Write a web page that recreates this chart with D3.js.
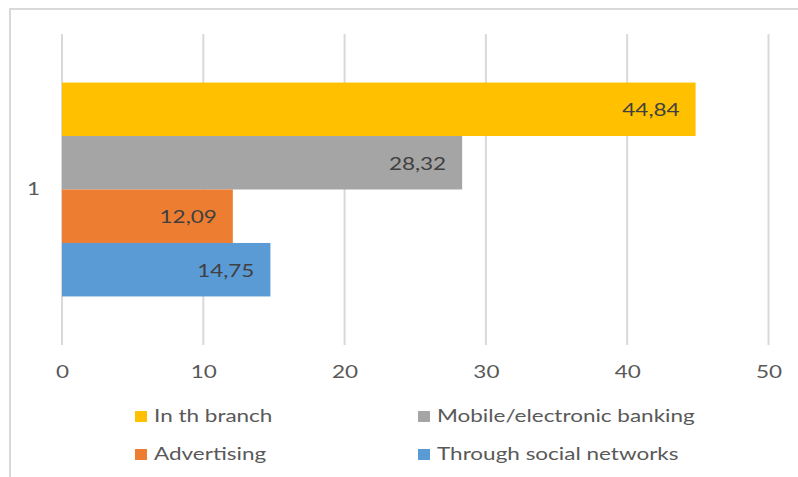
<!DOCTYPE html>
<html>
<head>
<meta charset="utf-8">
<script src="https://cdn.jsdelivr.net/npm/d3@7"></script>
<style>
  html, body { margin: 0; padding: 0; background: #fff; }
  svg { display: block; }
  text { font-family: Lato, "Open Sans", sans-serif; }
</style>
</head>
<body>
<svg id="chart" width="798" height="477"></svg>
<script>
// Survey answers: where customers first heard about the service (percent)
const categories = ["1"];
const seriesNames = ["In th branch", "Mobile/electronic banking", "Advertising", "Through social networks"];
const seriesValues = [44.84, 28.32, 12.09, 14.75];
const seriesColors = ["#FFC000", "#A5A5A5", "#ED7D31", "#5B9BD5"];
const xTicks = [0, 10, 20, 30, 40, 50];

const fmt = v => d3.format(".2f")(v).replace(".", ",");
const stretch = "scale(1.25,1)";

const svg = d3.select("#chart");
const W = 798, H = 477;

// chart frame (extends past the visible area on the right and bottom)
svg.append("rect")
  .attr("x", 10).attr("y", 9)
  .attr("width", W + 20).attr("height", H + 20)
  .attr("fill", "#fff")
  .attr("stroke", "#D9D9D9")
  .attr("stroke-width", 2);

const plot = { left: 62, right: 768.5, top: 34, bottom: 345 };

const x = d3.scaleLinear().domain([0, 50]).range([plot.left, plot.right]);
const y = d3.scaleBand().domain(categories).range([plot.top, plot.bottom])
  .paddingInner(0).paddingOuter(0.227);
const ySeries = d3.scaleBand().domain(seriesNames).range([0, y.bandwidth()]).padding(0);

// vertical gridlines
svg.append("g")
  .selectAll("line")
  .data(xTicks)
  .join("line")
  .attr("x1", d => x(d)).attr("x2", d => x(d))
  .attr("y1", plot.top).attr("y2", plot.bottom)
  .attr("stroke", "#D9D9D9")
  .attr("stroke-width", 2);

// bars
const rows = categories.flatMap(c => seriesNames.map((s, i) => ({ c, s, v: seriesValues[i], color: seriesColors[i] })));
const barG = svg.append("g");
barG.selectAll("rect")
  .data(rows)
  .join("rect")
  .attr("x", x(0))
  .attr("y", d => y(d.c) + ySeries(d.s))
  .attr("width", d => x(d.v) - x(0))
  .attr("height", ySeries.bandwidth())
  .attr("fill", d => d.color);

// value labels inside bar ends
barG.selectAll("text")
  .data(rows)
  .join("text")
  .attr("transform", d => `translate(${x(d.v) - 16},${y(d.c) + ySeries(d.s) + ySeries.bandwidth() / 2}) ${stretch}`)
  .attr("text-anchor", "end")
  .attr("dominant-baseline", "central")
  .attr("font-size", 18)
  .attr("fill", "#404040")
  .text(d => fmt(d.v));

// value axis
const xAxis = svg.append("g")
  .attr("transform", `translate(0,${plot.bottom})`)
  .call(d3.axisBottom(x).tickValues(xTicks).tickSize(0).tickPadding(20).tickFormat(d3.format("d")));
xAxis.select(".domain").remove();
xAxis.selectAll("text")
  .attr("font-size", 18)
  .attr("font-family", "Lato, 'Open Sans', sans-serif")
  .attr("fill", "#595959")
  .attr("transform", stretch);

// category axis
const yAxis = svg.append("g")
  .attr("transform", `translate(${plot.left},0)`)
  .call(d3.axisLeft(y).tickSize(0).tickPadding(0));
yAxis.select(".domain").remove();
yAxis.selectAll("text")
  .attr("x", 0)
  .attr("font-size", 18)
  .attr("font-family", "Lato, 'Open Sans', sans-serif")
  .attr("fill", "#595959")
  .attr("transform", `translate(-22,0) ${stretch}`);

// legend, two columns
const legendX = [135, 418];
const legendY = [416.5, 454.5];
const legend = svg.append("g")
  .selectAll("g")
  .data(seriesNames)
  .join("g")
  .attr("transform", (d, i) => `translate(${legendX[i % 2]},${legendY[Math.floor(i / 2)]})`);
legend.append("rect")
  .attr("x", 0).attr("y", -5.5)
  .attr("width", 12).attr("height", 11)
  .attr("fill", (d, i) => seriesColors[i]);
legend.append("text")
  .attr("transform", `translate(19,-1.5) ${stretch}`)
  .attr("dominant-baseline", "central")
  .attr("font-size", 18)
  .attr("fill", "#595959")
  .text(d => d);
</script>
</body>
</html>
